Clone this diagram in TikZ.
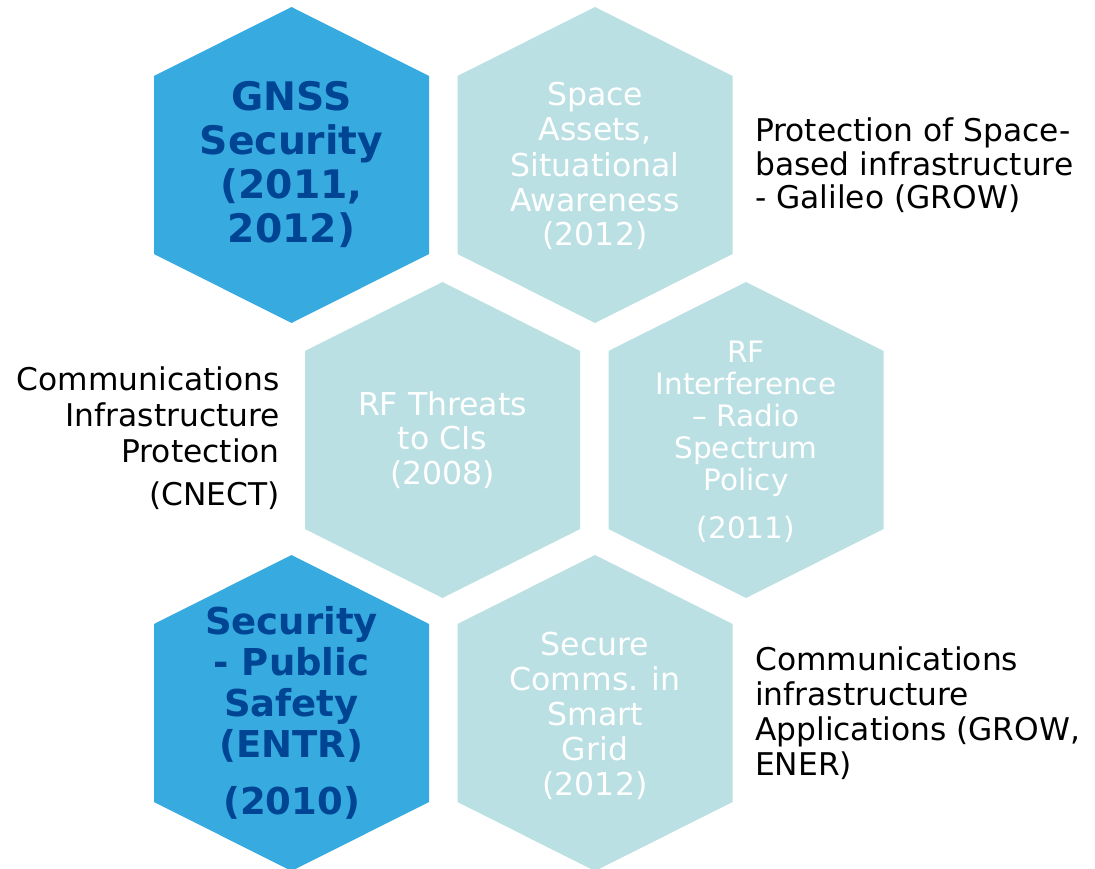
\documentclass[tikz,border=0pt]{standalone}
\usepackage{fontspec}
\setmainfont{DejaVu Sans}
\definecolor{hexblue}{HTML}{37ABDF}
\definecolor{hexpale}{HTML}{BBE0E3}
\definecolor{navy}{HTML}{004494}

\begin{document}
\begin{tikzpicture}[x=1pt, y=-1pt,
  hexcell/.pic={\fill[pic actions] (0,-158) -- (137.5,-89) -- (137.5,89)
      -- (0,158) -- (-137.5,89) -- (-137.5,-89) -- cycle;},
  darkcell/.style={fill=hexblue},
  palecell/.style={fill=hexpale},
  boldtext/.style={text=navy, align=center, inner sep=0pt, anchor=base},
  paletext/.style={text=white, align=center, inner sep=0pt, anchor=base},
  sidetext/.style={text=black, inner sep=0pt, font=\fontsize{31.3}{33.5}\selectfont}]
  \clip (0,0) rectangle (1095,869);
  \fill[white] (0,0) rectangle (1095,869);

  % honeycomb cells
  \pic[darkcell] at (291.5,165) {hexcell};
  \pic[palecell] at (595,165) {hexcell};
  \pic[palecell] at (442.5,440) {hexcell};
  \pic[palecell] at (746,440) {hexcell};
  \pic[darkcell] at (291.5,713) {hexcell};
  \pic[palecell] at (595,713) {hexcell};

  % cell labels (anchored on the baseline of their last line)
  \node[boldtext, font=\bfseries\fontsize{39.3}{44}\selectfont] (gnss) at (291.5,243)
    {GNSS\\Security\\(2011,\\2012)};
  \node[paletext, font=\fontsize{31.5}{35}\selectfont] (space) at (595,246)
    {Space\\Assets,\\Situational\\Awareness\\(2012)};
  \node[paletext, font=\fontsize{31.5}{34.5}\selectfont] (rfthreat) at (442.5,484)
    {RF Threats\\to CIs\\(2008)};
  \node[paletext, font=\fontsize{29.5}{32}\selectfont] (rfint) at (746,538.7)
    {RF\\Interference\\– Radio\\Spectrum\\Policy\\[16pt](2011)};
  \node[boldtext, font=\bfseries\fontsize{37}{41}\selectfont] (safety) at (291.5,814)
    {Security\\- Public\\Safety\\(ENTR)\\[16pt](2010)};
  \node[paletext, font=\fontsize{31.5}{35}\selectfont] (grid) at (595,795)
    {Secure\\Comms. in\\Smart\\Grid\\(2012)};

  % side notes
  \node[sidetext, align=left, anchor=base west] (galileo) at (755,208.7)
    {Protection of Space-\\based infrastructure\\- Galileo (GROW)};
  \node[sidetext, align=right, anchor=base east, font=\fontsize{31.3}{36}\selectfont] (cnect) at (280,505)
    {Communications\\Infrastructure\\Protection\\[7pt](CNECT)};
  \node[sidetext, align=left, anchor=base west, font=\fontsize{31.3}{35}\selectfont] (apps) at (755,775)
    {Communications\\infrastructure\\Applications (GROW,\\ENER)};
\end{tikzpicture}
\end{document}
